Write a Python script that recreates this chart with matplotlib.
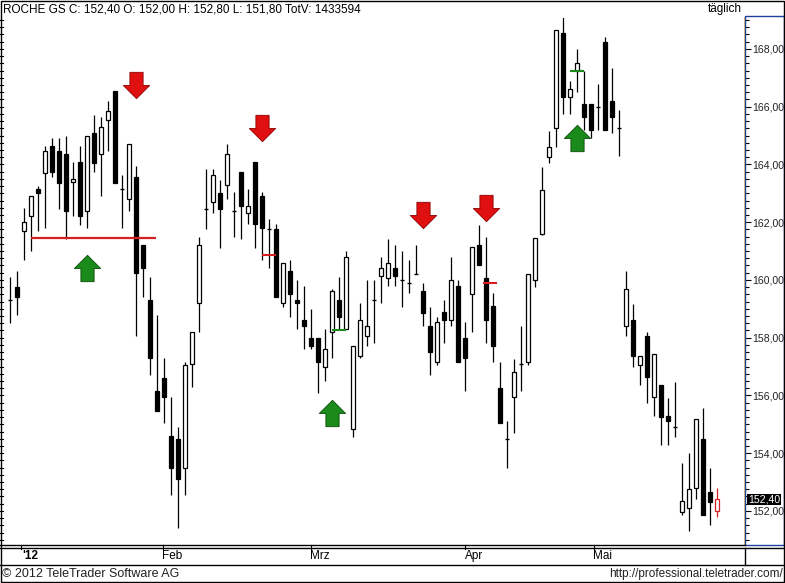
import matplotlib
matplotlib.use("Agg")
import matplotlib.pyplot as plt
from matplotlib.path import Path
from matplotlib.patches import Rectangle
import numpy as np

plt.rcParams['font.family'] = ['Liberation Sans', 'DejaVu Sans']

opens = [159.3,159.75,161.7,162.2,163.15,163.7,164.65,164.45,164.35,163.4,164.1,162.4,165.1,164.35,165.55,166.55,163.15,162.8,163.55,161.2,
         159.3,156.15,156.6,154.6,154.5,153.5,157.1,159.2,162.45,162.7,163.0,163.3,162.4,163.75,162.3,164.1,162.9,161.75,161.75,159.2,
         160.3,159.3,158.6,158.0,158.0,157.0,158.2,159.3,158.3,154.85,157.35,158.05,159.3,160.15,160.05,160.4,160.0,159.9,160.2,159.6,
         158.4,157.15,158.9,158.6,159.8,158.0,159.5,161.2,160.05,159.1,156.25,154.5,155.95,157.1,157.15,160.0,161.6,164.25,165.25,168.55,
         166.35,167.25,166.1,166.1,166.0,168.25,166.2,165.25,158.4,158.6,157.05,158.05,155.95,156.35,155.3,154.9,151.95,152.1,152.8,154.5,
         152.65,152.0]
closes = [159.3,159.4,162.0,162.9,163.0,164.45,163.75,163.35,162.4,163.5,162.2,165.0,164.05,165.3,165.85,163.35,163.15,164.7,160.25,160.4,
          157.3,155.45,155.95,153.5,153.1,157.05,158.2,161.2,162.45,163.65,162.45,164.35,162.4,162.55,162.55,161.95,161.8,161.75,159.4,160.6,
          159.5,159.2,158.4,157.7,157.15,157.6,159.6,158.7,160.8,157.7,158.6,158.4,159.3,160.4,160.6,160.15,159.95,159.9,160.2,158.85,
          157.5,158.55,158.6,160.0,157.15,157.3,161.15,160.5,158.6,157.7,155.05,154.45,156.8,157.15,160.2,161.45,163.1,164.6,168.65,166.35,
          166.6,167.5,165.65,165.2,165.95,165.2,165.65,165.25,159.7,157.35,157.35,156.65,157.45,155.25,155.1,154.85,152.35,152.75,155.2,151.85,
          152.3,152.4]
highs = [160.1,160.3,162.5,162.9,163.25,164.65,164.9,164.9,165.0,164.1,164.65,165.0,165.7,165.65,166.2,166.55,163.65,164.7,163.95,161.2,
         160.1,158.8,157.3,155.95,154.9,157.15,158.2,161.5,163.85,163.85,163.45,164.7,163.05,163.75,163.15,164.1,163.05,162.1,161.95,160.6,
         160.7,160.0,159.8,159.0,158.0,158.3,159.7,160.1,161.0,157.7,159.2,160.0,160.0,160.8,161.4,161.2,161.0,160.7,161.2,159.9,
         159.05,158.7,159.3,160.8,160.0,158.55,161.15,161.9,161.5,159.55,157.15,155.1,157.25,158.4,160.2,161.45,163.9,165.15,168.65,169.1,
         166.9,168.0,167.25,166.1,166.8,168.4,167.35,165.9,160.3,159.15,157.35,158.2,157.45,156.35,155.9,156.45,153.65,154.0,155.2,155.55,
         153.5,152.8]
lows = [158.5,158.8,160.7,161.0,161.7,161.8,163.55,162.45,161.4,162.2,161.9,161.8,163.75,162.9,164.45,163.35,161.8,162.4,158.05,159.4,
        156.7,155.45,155.05,152.55,151.4,152.55,156.3,158.2,161.75,162.3,161.1,162.8,161.5,161.4,161.95,161.1,160.7,160.4,159.4,159.05,
        158.7,158.3,157.6,157.6,156.1,156.5,157.3,158.3,158.3,154.55,157.3,157.7,157.8,159.2,159.8,159.8,159.05,159.55,160.2,158.4,
        156.7,157.05,157.8,158.4,157.15,156.15,158.2,160.5,157.8,157.15,155.05,153.5,154.7,156.15,157.05,159.75,161.55,164.05,164.6,165.75,
        165.75,166.5,165.2,164.9,165.2,165.2,165.1,164.3,158.05,157.0,156.35,155.75,155.3,154.3,154.3,154.55,151.85,151.3,152.4,151.85,
        151.5,151.8]

month_labels = ["'12", "Feb", "Mrz", "Apr", "Mai"]
month_pos = [2.9, 23.1, 44.3, 66.3, 84.7]
price_ticks = [152, 154, 156, 158, 160, 162, 164, 166, 168]

# signal annotations (candle index, price)
down_arrows = [(18, 166.75), (36, 165.25), (59, 162.25), (68, 162.5)]
up_arrows = [(11, 160.4), (46, 155.4), (81, 164.9)]
support_line = (3, 20.8, 161.45)
marks = [(37, 160.85, '#d42020'), (47, 158.25, '#1a8a1a'), (68.5, 159.9, '#d42020'), (81, 167.25, '#1a8a1a')]

W, H = 785, 583
fig = plt.figure(figsize=(W/100, H/100), dpi=100)
fig.patch.set_facecolor('white')

def fx(px): return px / W
def fy(py): return 1 - py / H

ax = fig.add_axes([0, fy(545), fx(745), (545-18)/H])
ax.set_xlim(-1.43, 105.0)
ax.set_ylim(150.82, 169.07)

n = len(opens)
for i in range(n):
    o, c, h, l = opens[i], closes[i], highs[i], lows[i]
    last = (i == n - 1)
    col = '#d42020' if last else 'black'
    ax.vlines(i, l, h, color=col, lw=0.9, zorder=2)
    bw = 0.7
    if abs(c - o) < 0.06:
        ax.hlines(o, i - bw/2, i + bw/2, color=col, lw=1.0, zorder=3)
    else:
        face = 'white' if c > o else 'black'
        ax.add_patch(Rectangle((i - bw/2, min(o, c)), bw, abs(c - o),
                               facecolor=face, edgecolor=col, lw=0.9, zorder=3))

ax.hlines(support_line[2], support_line[0], support_line[1], color='#d42020', lw=1.6, zorder=4)
for x, y, cc in marks:
    ax.hlines(y, x - 1.0, x + 1.0, color=cc, lw=1.5, zorder=4)

arrow = Path([(-0.25, 0.5), (0.25, 0.5), (0.25, 0.0), (0.5, 0.0), (0, -0.5), (-0.5, 0.0), (-0.25, 0.0), (-0.25, 0.5)],
             [1, 2, 2, 2, 2, 2, 2, 79])
for x, y in down_arrows:
    ax.plot(x, y, marker=arrow, markersize=19, color='#e01010', markeredgecolor='#8a0000', markeredgewidth=0.6, zorder=5)
up = Path([(-0.25, -0.5), (0.25, -0.5), (0.25, 0.0), (0.5, 0.0), (0, 0.5), (-0.5, 0.0), (-0.25, 0.0), (-0.25, -0.5)],
          [1, 2, 2, 2, 2, 2, 2, 79])
for x, y in up_arrows:
    ax.plot(x, y, marker=up, markersize=19, color='#1a8a1a', markeredgecolor='#0a4a0a', markeredgewidth=0.6, zorder=5)

for s in ['top', 'left', 'bottom']:
    ax.spines[s].set_visible(False)
ax.spines['right'].set_color('#e8c860')
ax.spines['right'].set_linewidth(1.2)
ax.yaxis.tick_right()
ax.set_yticks(price_ticks)
ax.set_yticklabels([f"{p:.2f}".replace('.', ',') for p in price_ticks], fontsize=7.6, color='#222')
ax.set_yticks(np.arange(151, 169.01, 0.25), minor=True)
ax.tick_params(axis='y', which='both', direction='out', length=3, width=0.8, color='black', pad=1)
ax.tick_params(axis='y', which='major', length=4)
ax.set_xticks([])

# left edge minor ticks
for p in np.arange(151, 169.01, 0.25):
    ax.plot([-1.43, -1.0], [p, p], color='black', lw=0.8, clip_on=False)

# last price box
ax.text(1.004, 152.4, '152,40', transform=ax.get_yaxis_transform(), ha='left', va='center',
        fontsize=7.6, color='white', bbox=dict(facecolor='black', edgecolor='none', pad=0.5))

# x axis band
fig.add_artist(plt.Line2D([0, fx(745)], [fy(545), fy(545)], color='black', lw=1))
fig.add_artist(plt.Line2D([0, 1], [fy(548), fy(548)], color='black', lw=1))
fig.add_artist(plt.Line2D([0, 1], [fy(565), fy(565)], color='black', lw=1))
fig.add_artist(plt.Line2D([fx(745), fx(745)], [fy(548), fy(565)], color='black', lw=1))
for lab, pos in zip(month_labels, month_pos):
    ax.text(pos, -0.021, lab, transform=ax.get_xaxis_transform(), ha='center', va='center',
            fontsize=8.5, fontweight='bold' if lab.startswith("'") else 'normal')
    ax.plot([pos - 1.3, pos - 1.3], [0, -0.008], transform=ax.get_xaxis_transform(), color='black', lw=0.8, clip_on=False)

# right panel blue border
fig.add_artist(Rectangle((fx(745), fy(545)), fx(784) - fx(745), fy(16) - fy(545), transform=fig.transFigure,
                         fill=False, edgecolor='#2040a0', lw=1))

# outer frame
fig.add_artist(Rectangle((0.001, 0.001), 0.998, 0.998, transform=fig.transFigure, fill=False, edgecolor='black', lw=1))

fig.text(fx(3), fy(9), 'ROCHE GS C: 152,40 O: 152,00 H: 152,80 L: 151,80 TotV: 1433594', fontsize=8.5, va='center', ha='left')
fig.text(fx(742), fy(9), 'täglich', fontsize=8.5, va='center', ha='right')
fig.text(fx(2), fy(574), '© 2012 TeleTrader Software AG', fontsize=9, va='center', ha='left', color='#222')
fig.text(fx(783), fy(574), 'http://professional.teletrader.com/', fontsize=8.5, va='center', ha='right', color='#222')

fig.savefig('out.png', dpi=100)
